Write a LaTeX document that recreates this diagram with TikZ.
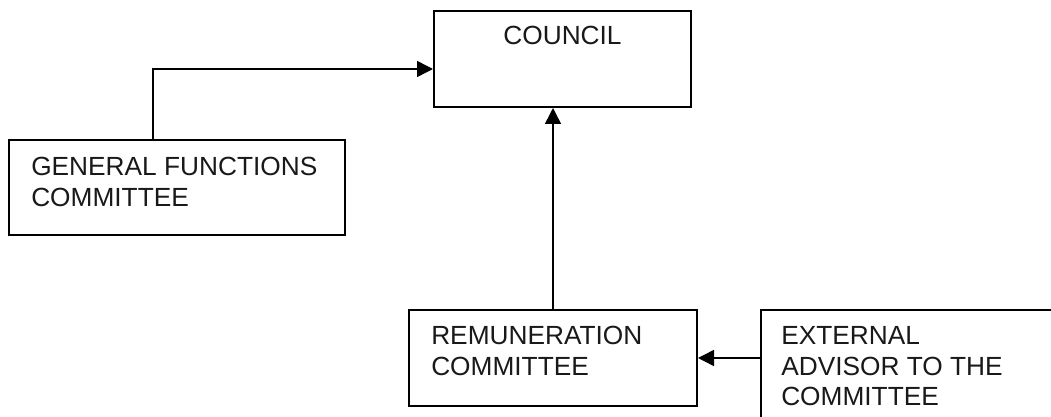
\documentclass[tikz,border=0pt]{standalone}
\usepackage{fontspec}
\setmainfont{Liberation Sans}
\usetikzlibrary{positioning,arrows.meta}
\tikzstyle{orgbox} = [rectangle, draw=black, line width=1.5pt, inner sep=0pt]
\tikzstyle{boxtext} = [inner sep=0pt, align=left, text=black!90, font=\fontsize{19.7}{23}\selectfont]
\tikzstyle{arrow} = [line width=1.1pt, -{Triangle[length=12pt,width=12pt]}]
\begin{document}
\begin{tikzpicture}[node distance=100pt]
\clip (0,0) rectangle (788.25pt,-312.75pt);
 \node (council) [orgbox, minimum width=192.75pt, minimum height=72pt] at (421.875pt,-44.25pt) {};
 \node (gfc) [orgbox, minimum width=252pt, minimum height=71.25pt, below of=council, xshift=-289.125pt, yshift=3.625pt] {};
 \node (remun) [orgbox, minimum width=216pt, minimum height=72pt, below of=council, xshift=-7.125pt, yshift=-124.25pt] {};
 \node (ext) [orgbox, minimum width=240pt, minimum height=97.5pt, right of=remun, xshift=176pt, yshift=-12.75pt] {};
\node (counciltext) [boxtext, anchor=north, below=12pt of council.north] {COUNCIL};
\node (gfctext) [boxtext, anchor=north west, below right=13.5pt and 17.25pt of gfc.north west] {GENERAL FUNCTIONS\\COMMITTEE};
\node (remuntext) [boxtext, anchor=north west, below right=12.75pt and 17.25pt of remun.north west] {REMUNERATION\\COMMITTEE};
\node (exttext) [boxtext, anchor=north west, below right=12.75pt and 15.75pt of ext.north west] {EXTERNAL\\ADVISOR TO THE\\COMMITTEE};
\draw [arrow] ([xshift=-18pt]gfc.north) |- ([yshift=-7.5pt]council.west);
\draw [arrow] (remun.north) -- (remun.north |- council.south);
\draw [arrow] (ext.west |- remun.east) -- (remun.east);
  \end{tikzpicture}
\end{document}
